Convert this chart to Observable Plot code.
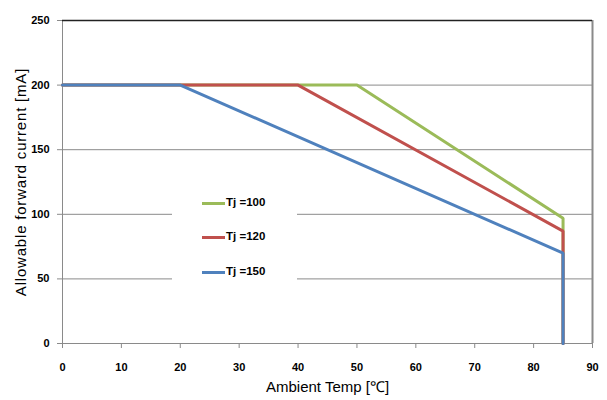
<!DOCTYPE html>
<html><head><meta charset="utf-8">
<script src="https://cdn.jsdelivr.net/npm/d3@7"></script>
<script src="https://cdn.jsdelivr.net/npm/@observablehq/plot@0.6"></script>
<style>
body{margin:0;background:#fff;}
#wrap{position:relative;width:607px;height:400px;font-family:"Liberation Sans",Arial,sans-serif;}
#wrap svg{font-family:"Liberation Sans",Arial,sans-serif;}
g[aria-label="y-axis tick label"] text, g[aria-label="x-axis tick label"] text{font-weight:bold;font-size:11px;fill:#000;}
g[aria-label="y-axis label"] text{font-size:15px;letter-spacing:0.8px;fill:#000;}
g[aria-label="x-axis label"] text{font-size:15px;fill:#000;}
#legend{position:absolute;left:172px;top:190px;width:125px;height:100px;background:#fff;}
.item{position:absolute;left:30px;height:14px;}
.sw{position:absolute;left:0;top:6px;width:23px;height:3px;}
.lab{position:absolute;left:24px;top:0;font-weight:bold;font-size:11.5px;white-space:nowrap;color:#000;}
</style></head>
<body>
<div id="wrap"></div>
<script>
const seriesNames = ["Tj =100", "Tj =120", "Tj =150"];
const seriesColors = ["#9BBB59", "#C0504D", "#4F81BD"];
const temp100 = [0, 50, 85, 85];
const curr100 = [200, 200, 97, 0];
const temp120 = [0, 40, 85, 85];
const curr120 = [200, 200, 87, 0];
const temp150 = [0, 20, 85, 85];
const curr150 = [200, 200, 70, 0];
const xTicks = [0, 10, 20, 30, 40, 50, 60, 70, 80, 90];
const yTicks = [0, 50, 100, 150, 200, 250];
const gridValues = [50, 100, 150, 200];

const temps = [temp100, temp120, temp150];
const currs = [curr100, curr120, curr150];
const data = [];
seriesNames.forEach((s, i) => temps[i].forEach((t, j) => data.push({series: s, t, c: currs[i][j]})));

const chart = Plot.plot({
  width: 607, height: 400,
  marginLeft: 62, marginRight: 15, marginTop: 20, marginBottom: 57,
  x: {domain: [0, 90]},
  y: {domain: [0, 250]},
  color: {domain: seriesNames, range: seriesColors},
  marks: [
    Plot.ruleY(gridValues, {stroke: "#8a8a8a", strokeWidth: 1}),
    Plot.ruleY([0], {stroke: "#8a8a8a", strokeWidth: 1}),
    Plot.ruleX([0], {stroke: "#8a8a8a", strokeWidth: 1}),
    Plot.ruleX([90], {stroke: "#8a8a8a", strokeWidth: 2}),
    Plot.ruleY([250], {stroke: "#222", strokeWidth: 1.5}),
    Plot.axisY({ticks: yTicks, tickSize: 5, tickPadding: 8, stroke: "#8a8a8a",
      label: "Allowable forward current [mA]", labelAnchor: "center", labelOffset: 47, labelArrow: "none"}),
    Plot.axisX({ticks: xTicks, tickSize: 5, tickPadding: 15, stroke: "#8a8a8a",
      label: "Ambient Temp [℃]", labelAnchor: "center", labelOffset: 48, labelArrow: "none"}),
    Plot.line(data, {x: "t", y: "c", z: "series", stroke: "series", strokeWidth: 3, strokeLinejoin: "miter"})
  ]
});
const wrap = document.getElementById("wrap");
wrap.appendChild(chart);
const legend = document.createElement("div");
legend.id = "legend";
const tops = [6, 40, 75];
seriesNames.forEach((s, i) => {
  const it = document.createElement("div");
  it.className = "item";
  it.style.top = tops[i] + "px";
  it.innerHTML = `<div class="sw" style="background:${seriesColors[i]}"></div><div class="lab">${s}</div>`;
  legend.appendChild(it);
});
wrap.appendChild(legend);
</script>
</body></html>
